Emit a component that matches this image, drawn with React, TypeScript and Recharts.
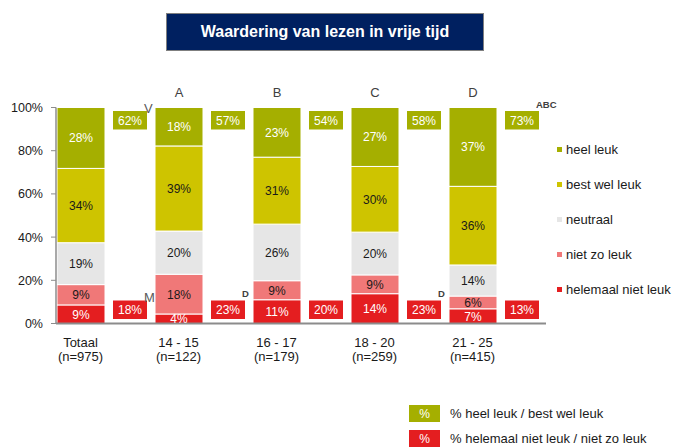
import React from 'react';
import { BarChart, Bar, XAxis, YAxis, Legend, LabelList } from 'recharts';

const groups = ['Totaal', '14 - 15', '16 - 17', '18 - 20', '21 - 25'];
const sampleSizes = ['(n=975)', '(n=122)', '(n=179)', '(n=259)', '(n=415)'];
const sigLetters = ['', 'A', 'B', 'C', 'D'];

const heelLeuk = [28.2, 17.8, 23.0, 27.3, 36.5];
const bestWelLeuk = [34.4, 39.4, 31.0, 30.4, 36.4];
const neutraal = [19.4, 20.0, 26.2, 19.8, 14.4];
const nietZoLeuk = [9.4, 18.4, 8.8, 8.7, 5.9];
const helemaalNietLeuk = [8.6, 4.4, 11.0, 13.8, 6.8];

const totalLeuk = [62, 57, 54, 58, 73];
const totalNietLeuk = [18, 23, 20, 23, 13];
const leukMarks = ['V', '', '', '', 'ABC'];
const nietLeukMarks = ['M', 'D', '', 'D', ''];

const FONT = '"Liberation Sans", Arial, sans-serif';

const series = [
  { key: 'helemaal', name: 'helemaal niet leuk', color: '#E41E20', text: '#ffffff' },
  { key: 'nietZo', name: 'niet zo leuk', color: '#F07878', text: '#1a1a1a' },
  { key: 'neutraal', name: 'neutraal', color: '#E6E6E6', text: '#1a1a1a' },
  { key: 'best', name: 'best wel leuk', color: '#CEC400', text: '#1a1a1a' },
  { key: 'heel', name: 'heel leuk', color: '#A5AF00', text: '#ffffff' },
];

// bars and summary boxes alternate along the category axis
const data: any[] = [];
groups.forEach((g, i) => {
  data.push({
    name: 'g' + i,
    label: g,
    n: sampleSizes[i],
    sig: sigLetters[i],
    helemaal: helemaalNietLeuk[i],
    nietZo: nietZoLeuk[i],
    neutraal: neutraal[i],
    best: bestWelLeuk[i],
    heel: heelLeuk[i],
  });
  data.push({
    name: 's' + i,
    label: '',
    n: '',
    nietLeuk: totalNietLeuk[i],
    leuk: totalLeuk[i],
    nietLeukMark: nietLeukMarks[i],
    leukMark: leukMarks[i],
  });
});

const BOX_W = 34;
const BOX_H = 18.5;

const Mark = ({ x, boxTop, text }: { x: number; boxTop: number; text: string }) => {
  if (!text) return null;
  const gender = text === 'V' || text === 'M';
  return (
    <text
      x={x}
      y={gender ? boxTop + 1.5 : boxTop - 3.5}
      fontSize={gender ? 13 : 9.5}
      fontWeight={gender ? 'normal' : 'bold'}
      fill={gender ? '#595959' : '#404040'}
      fontFamily={FONT}
    >
      {text}
    </text>
  );
};

const makeBoxShape = (kind: 'leuk' | 'nietLeuk', color: string) => (props: any) => {
  const { x, y, width, height, payload } = props;
  const value = payload?.[kind];
  if (value == null || !height) return null;
  const unit = height / value;
  const below = kind === 'leuk' ? payload.nietLeuk || 0 : 0;
  const bottom = y + height + below * unit;
  const top = bottom - 100 * unit;
  const cx = x + width / 2;
  const boxTop = kind === 'leuk' ? top + 3.5 : bottom - 4.5 - BOX_H;
  return (
    <g>
      <rect x={cx - BOX_W / 2} y={boxTop} width={BOX_W} height={BOX_H} fill={color} />
      <text x={cx} y={boxTop + BOX_H / 2 + 4.5} textAnchor="middle" fontSize={12} fill="#fff" fontFamily={FONT}>
        {value}%
      </text>
      <Mark x={cx + BOX_W / 2 - 3} boxTop={boxTop} text={kind === 'leuk' ? payload.leukMark : payload.nietLeukMark} />
    </g>
  );
};

const segmentLabel = (color: string) => (props: any) => {
  const { x, y, width, height, value } = props;
  if (value == null || !height) return null;
  return (
    <text x={x + width / 2} y={y + height / 2 + 4.5} textAnchor="middle" fontSize={12} fill={color} fontFamily={FONT}>
      {Math.round(value)}%
    </text>
  );
};

const sigLabel = (props: any) => {
  const { x, y, width, value } = props;
  if (!value) return null;
  return (
    <text x={x + width / 2} y={y - 10.5} textAnchor="middle" fontSize={13} fill="#404040" fontFamily={FONT}>
      {value}
    </text>
  );
};

const CategoryTick = (props: any) => {
  const { x, y, payload } = props;
  const row = data[payload.index];
  if (!row || !row.label) return null;
  return (
    <g>
      <text x={x} y={y + 23} textAnchor="middle" fontSize={13} fill="#1a1a1a" fontFamily={FONT}>
        {row.label}
      </text>
      <text x={x} y={y + 37} textAnchor="middle" fontSize={13} fill="#1a1a1a" fontFamily={FONT}>
        {row.n}
      </text>
    </g>
  );
};

const renderLegend = () => (
  <div style={{ fontFamily: FONT, fontSize: 13, color: '#1a1a1a' }}>
    {[...series].reverse().map((s) => (
      <div key={s.key} style={{ height: 35.2, display: 'flex', alignItems: 'center' }}>
        <span style={{ width: 5, height: 5, background: s.color, marginRight: 4, display: 'inline-block' }} />
        <span>{s.name}</span>
      </div>
    ))}
  </div>
);

const summaryLegend = [
  { label: '% heel leuk / best wel leuk', color: '#A5AF00', top: 405 },
  { label: '% helemaal niet leuk / niet zo leuk', color: '#E41E20', top: 430 },
];

export default function App() {
  return (
    <div style={{ position: 'absolute', left: 0, top: 0, width: 677, height: 447, background: '#fff', fontFamily: FONT, overflow: 'hidden' }}>
      <div
        style={{
          position: 'absolute',
          left: 166,
          top: 13,
          width: 318,
          height: 38,
          boxSizing: 'border-box',
          background: '#002060',
          border: '1px solid #7f7f7f',
          color: '#fff',
          fontWeight: 'bold',
          fontSize: 16,
          display: 'flex',
          alignItems: 'center',
          justifyContent: 'center',
        }}
      >
        Waardering van lezen in vrije tijd
      </div>

      <BarChart
        width={677}
        height={447}
        data={data}
        margin={{ top: 107.5, right: 131, bottom: 83.5, left: 6 }}
        barSize={48}
      >
        <YAxis
          width={50}
          domain={[0, 100]}
          ticks={[0, 20, 40, 60, 80, 100]}
          tickFormatter={(v) => `${v}%`}
          tick={{ fontSize: 12.5, fill: '#1a1a1a', fontFamily: FONT }}
          tickSize={5}
          tickMargin={8}
          axisLine={{ stroke: '#8c8c8c', strokeWidth: 1.5 }}
          tickLine={{ stroke: '#8c8c8c' }}
        />
        <XAxis
          dataKey="name"
          interval={0}
          height={40}
          tickSize={0}
          tickMargin={0}
          tickLine={false}
          axisLine={{ stroke: '#8c8c8c', strokeWidth: 2 }}
          tick={<CategoryTick />}
        />
        <Legend
          content={renderLegend}
          wrapperStyle={{ left: 557, top: 131.5, width: 120, height: 0, overflow: 'visible' }}
        />
        {series.map((s) => (
          <Bar key={s.key} dataKey={s.key} stackId="a" fill={s.color} stroke="#fff" strokeWidth={1} isAnimationActive={false}>
            <LabelList dataKey={s.key} content={segmentLabel(s.text)} />
            {s.key === 'heel' ? <LabelList dataKey="sig" content={sigLabel} /> : null}
          </Bar>
        ))}
        <Bar dataKey="nietLeuk" stackId="a" fill="#E41E20" shape={makeBoxShape('nietLeuk', '#E41E20')} isAnimationActive={false} />
        <Bar dataKey="leuk" stackId="a" fill="#A5AF00" shape={makeBoxShape('leuk', '#A5AF00')} isAnimationActive={false} />
      </BarChart>

      {summaryLegend.map((item) => (
        <div key={item.label} style={{ position: 'absolute', left: 409, top: item.top, height: 17, display: 'flex', alignItems: 'center' }}>
          <div
            style={{
              width: 31,
              height: 17,
              background: item.color,
              color: '#fff',
              fontSize: 12,
              display: 'flex',
              alignItems: 'center',
              justifyContent: 'center',
            }}
          >
            %
          </div>
          <span style={{ marginLeft: 10, fontSize: 13, color: '#1a1a1a', whiteSpace: 'nowrap' }}>{item.label}</span>
        </div>
      ))}
    </div>
  );
}
